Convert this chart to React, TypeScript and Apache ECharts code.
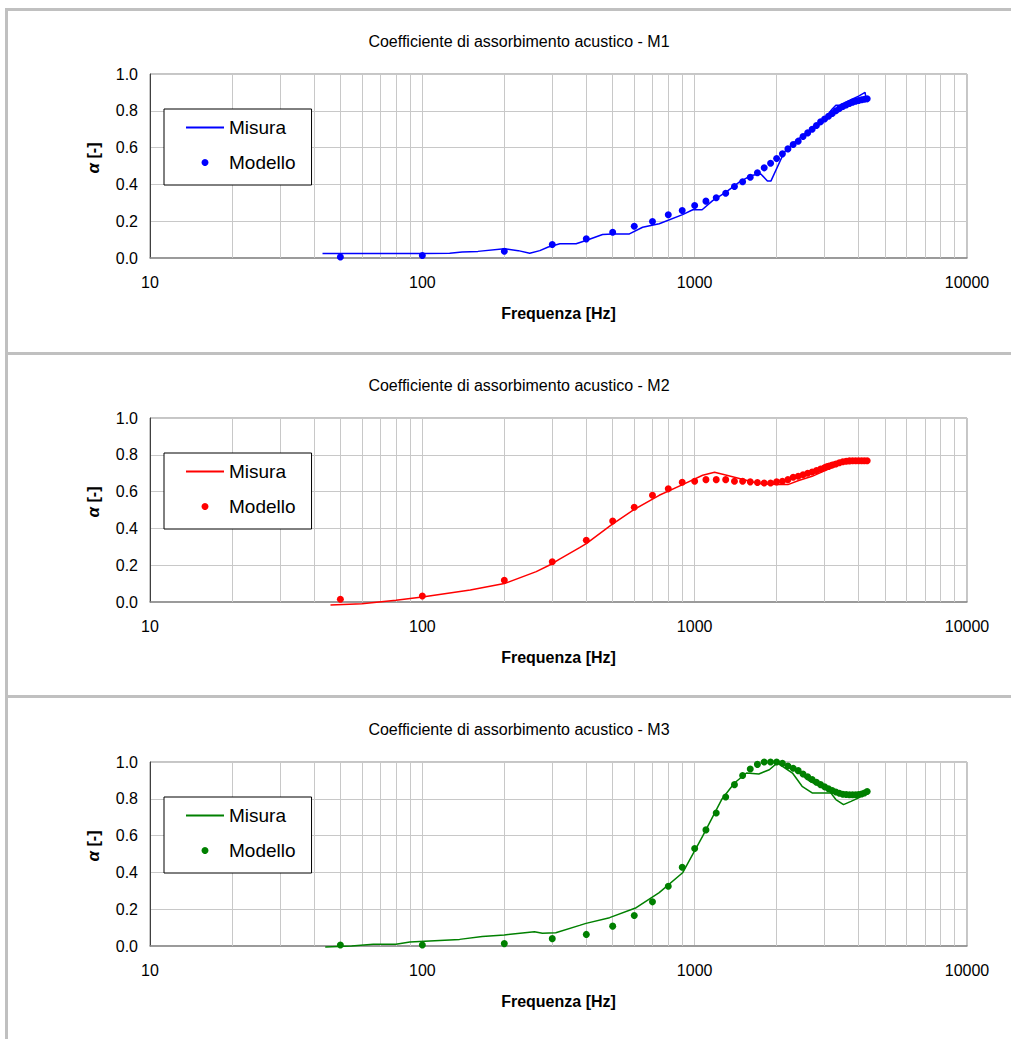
import React, { useEffect, useRef } from "react";
import * as echarts from "echarts";

// ---------- DATA ----------
const panelTitles = [
  "Coefficiente di assorbimento acustico - M1",
  "Coefficiente di assorbimento acustico - M2",
  "Coefficiente di assorbimento acustico - M3",
];
const seriesColors = ["#0000ff", "#ff0000", "#008000"];
const yTickLabels = ["0.0", "0.2", "0.4", "0.6", "0.8", "1.0"];
const xTickLabels = ["10", "100", "1000", "10000"];
const minorGridFreqs = [20, 30, 40, 50, 60, 70, 80, 90, 200, 300, 400, 500, 600, 700, 800, 900, 2000, 3000, 4000, 5000, 6000, 7000, 8000, 9000];

// Misura (measured) – M1
const m1MisuraFreq = [43, 60, 80, 100, 126, 140, 160, 200, 225, 248, 270, 290, 320, 367, 399, 459, 500, 576, 644, 741, 903, 984, 1065, 1164, 1303, 1458, 1608, 1750, 1850, 1905, 2131, 2286, 2630, 3028, 3200, 3300, 3400, 3700, 4000, 4224, 4250, 4000, 3700, 3400, 3200, 3000];
const m1MisuraAlpha = [0.025, 0.025, 0.025, 0.025, 0.026, 0.033, 0.036, 0.05, 0.04, 0.026, 0.04, 0.06, 0.077, 0.077, 0.095, 0.128, 0.131, 0.131, 0.167, 0.186, 0.236, 0.262, 0.262, 0.312, 0.358, 0.412, 0.448, 0.457, 0.418, 0.418, 0.575, 0.62, 0.693, 0.765, 0.81, 0.83, 0.83, 0.856, 0.88, 0.9, 0.875, 0.86, 0.845, 0.815, 0.79, 0.76];

// Misura – M2
const m2MisuraFreq = [46, 60, 80, 100, 150, 200, 262, 300, 318, 378, 400, 493, 600, 741, 903, 1070, 1183, 1300, 1400, 1720, 2000, 2200, 2410, 2700, 3010, 3360, 3660, 4200, 4200, 3660, 3360, 3010, 2700, 2410, 2200, 1900];
const m2MisuraAlpha = [-0.016, -0.01, 0.01, 0.027, 0.065, 0.1, 0.165, 0.208, 0.232, 0.295, 0.317, 0.418, 0.503, 0.58, 0.638, 0.689, 0.705, 0.69, 0.678, 0.644, 0.638, 0.638, 0.66, 0.683, 0.714, 0.743, 0.761, 0.768, 0.772, 0.77, 0.765, 0.747, 0.706, 0.68, 0.662, 0.648];

// Misura – M3
const m3MisuraFreq = [44, 55, 66, 80, 90, 137, 166, 200, 258, 276, 309, 378, 399, 487, 610, 741, 903, 1070, 1256, 1400, 1550, 1720, 1880, 2010, 2286, 2480, 2700, 3160, 3300, 3520, 3750, 4000, 4300, 4000, 3500, 3010, 2650, 2300, 2050];
const m3MisuraAlpha = [-0.005, 0.0, 0.009, 0.009, 0.022, 0.036, 0.051, 0.06, 0.078, 0.069, 0.072, 0.112, 0.123, 0.154, 0.208, 0.29, 0.398, 0.597, 0.796, 0.886, 0.94, 0.935, 0.958, 0.995, 0.94, 0.868, 0.832, 0.832, 0.796, 0.768, 0.786, 0.805, 0.84, 0.823, 0.823, 0.854, 0.895, 0.968, 0.99];

// Modello (model) – shared frequencies
const modelloFreq = [50, 100, 200, 300, 400, 500, 600, 700, 800, 900, 1000, 1100, 1200, 1300, 1400, 1500, 1600, 1700, 1800, 1900, 2000, 2100, 2200, 2300, 2400, 2500, 2600, 2700, 2800, 2900, 3000, 3100, 3200, 3300, 3400, 3500, 3600, 3700, 3800, 3900, 4000, 4100, 4200, 4300];
const m1ModelloAlpha = [0.005, 0.014, 0.037, 0.073, 0.104, 0.14, 0.173, 0.198, 0.235, 0.258, 0.285, 0.309, 0.327, 0.352, 0.389, 0.414, 0.439, 0.463, 0.49, 0.515, 0.541, 0.566, 0.593, 0.617, 0.635, 0.66, 0.68, 0.7, 0.72, 0.74, 0.755, 0.77, 0.785, 0.8, 0.812, 0.823, 0.832, 0.84, 0.847, 0.852, 0.856, 0.86, 0.863, 0.865];
const m2ModelloAlpha = [0.015, 0.033, 0.118, 0.219, 0.336, 0.44, 0.515, 0.58, 0.615, 0.651, 0.656, 0.665, 0.665, 0.665, 0.656, 0.656, 0.653, 0.649, 0.647, 0.647, 0.653, 0.656, 0.665, 0.678, 0.683, 0.692, 0.7, 0.707, 0.715, 0.722, 0.73, 0.737, 0.745, 0.75, 0.757, 0.762, 0.765, 0.767, 0.768, 0.768, 0.768, 0.768, 0.768, 0.768];
const m3ModelloAlpha = [0.005, 0.005, 0.013, 0.04, 0.063, 0.108, 0.166, 0.24, 0.325, 0.428, 0.53, 0.631, 0.723, 0.81, 0.877, 0.927, 0.962, 0.987, 1.0, 1.0, 1.0, 0.993, 0.978, 0.966, 0.953, 0.935, 0.92, 0.905, 0.89, 0.877, 0.865, 0.855, 0.845, 0.837, 0.83, 0.825, 0.823, 0.822, 0.822, 0.822, 0.823, 0.826, 0.832, 0.84];

const misuraFreqs = [m1MisuraFreq, m2MisuraFreq, m3MisuraFreq];
const misuraAlphas = [m1MisuraAlpha, m2MisuraAlpha, m3MisuraAlpha];
const modelloAlphas = [m1ModelloAlpha, m2ModelloAlpha, m3ModelloAlpha];

// ---------- LAYOUT ----------
const FONT = "'Liberation Sans', Arial, sans-serif";
const PANEL_STEP = 344;
const GRID_LEFT = 150;
const GRID_TOP = 74;
const GRID_W = 817;
const GRID_H = 184;
const FRAME = "#c0c0c0";
const GRIDLINE = "#c8c8c8";

export default function App() {
  const ref = useRef<HTMLDivElement>(null);

  useEffect(() => {
    if (!ref.current) return;
    const chart = echarts.init(ref.current, undefined, { renderer: "svg" });

    const grids: any[] = [];
    const xAxes: any[] = [];
    const yAxes: any[] = [];
    const series: any[] = [];
    const legends: any[] = [];
    const graphics: any[] = [];

    for (let i = 0; i < 3; i++) {
      const off = i * PANEL_STEP;
      const color = seriesColors[i];
      grids.push({
        left: GRID_LEFT,
        top: GRID_TOP + off,
        width: GRID_W,
        height: GRID_H,
        show: true,
        borderColor: "#8c8c8c",
        borderWidth: 1,
        backgroundColor: "#fff",
      });
      xAxes.push({
        type: "log",
        logBase: 10,
        gridIndex: i,
        min: 10,
        max: 10000,
        name: "Frequenza [Hz]",
        nameLocation: "middle",
        nameGap: 47,
        nameTextStyle: { fontFamily: FONT, fontSize: 16, fontWeight: "bold", color: "#000" },
        axisLine: { show: true, lineStyle: { color: "#8c8c8c", width: 1.5 } },
        axisTick: { show: false },
        axisLabel: {
          fontFamily: FONT,
          fontSize: 16,
          color: "#000",
          margin: 16,
          formatter: (v: number) => xTickLabels[Math.round(Math.log10(v)) - 1] ?? String(v),
        },
        splitLine: { show: true, lineStyle: { color: GRIDLINE, width: 1 } },
      });
      yAxes.push({
        type: "value",
        gridIndex: i,
        min: 0,
        max: 1,
        interval: 0.2,
        name: "{a|α} [-]",
        nameLocation: "middle",
        nameGap: 48,
        nameTextStyle: {
          fontFamily: FONT,
          fontSize: 16,
          fontWeight: "bold",
          color: "#000",
          padding: [0, 0, 0, 16],
          rich: { a: { fontFamily: FONT, fontSize: 17, fontWeight: "bold", fontStyle: "italic", color: "#000" } },
        },
        axisLine: { show: true, lineStyle: { color: "#404040", width: 1 } },
        axisTick: { show: false },
        axisLabel: {
          fontFamily: FONT,
          fontSize: 16,
          color: "#000",
          margin: 12,
          formatter: (v: number) => yTickLabels[Math.round(v / 0.2)] ?? v.toFixed(1),
        },
        splitLine: { show: true, lineStyle: { color: GRIDLINE, width: 1 } },
      });

      const mf = misuraFreqs[i];
      const ma = misuraAlphas[i];
      series.push({
        name: `Misura M${i + 1}`,
        type: "line",
        xAxisIndex: i,
        yAxisIndex: i,
        data: mf.map((f, j) => [f, ma[j]]),
        symbol: "none",
        showSymbol: false,
        clip: false,
        z: 3,
        lineStyle: { color, width: 1.5 },
        itemStyle: { color },
        markLine: {
          silent: true,
          symbol: "none",
          z: 1,
          label: { show: false },
          lineStyle: { color: GRIDLINE, type: "solid", width: 1 },
          emphasis: { disabled: true },
          data: minorGridFreqs.map((f) => ({ xAxis: f })),
        },
      });
      const md = modelloAlphas[i];
      series.push({
        name: `Modello M${i + 1}`,
        type: "scatter",
        xAxisIndex: i,
        yAxisIndex: i,
        data: modelloFreq.map((f, j) => [f, md[j]]),
        symbol: "circle",
        symbolSize: 7,
        clip: false,
        z: 4,
        itemStyle: { color, opacity: 1 },
      });

      legends.push({
        orient: "vertical",
        left: 164,
        top: 109 + off,
        itemWidth: 38,
        itemHeight: 7,
        itemGap: 16,
        padding: [9, 16, 13, 21],
        borderColor: "#000",
        borderWidth: 1,
        backgroundColor: "#fff",
        selectedMode: false,
        textStyle: { fontFamily: FONT, fontSize: 19, color: "#000" },
        formatter: (name: string) => name.split(" ")[0],
        data: [
          { name: `Misura M${i + 1}`, itemStyle: { opacity: 0 } },
          { name: `Modello M${i + 1}`, itemStyle: { opacity: 1 } },
        ],
      });

      graphics.push({
        type: "text",
        x: 519,
        y: 41 + off,
        silent: true,
        style: {
          text: panelTitles[i],
          fontFamily: FONT,
          fontSize: 16,
          fill: "#000",
          textAlign: "center",
          textVerticalAlign: "middle",
        },
      });
    }

    // panel frames
    graphics.push({ type: "rect", shape: { x: 5, y: 8, width: 1006, height: 3 }, style: { fill: FRAME }, silent: true });
    graphics.push({ type: "rect", shape: { x: 5, y: 8, width: 3, height: 1031 }, style: { fill: FRAME }, silent: true });
    graphics.push({ type: "rect", shape: { x: 5, y: 352, width: 1006, height: 3 }, style: { fill: FRAME }, silent: true });
    graphics.push({ type: "rect", shape: { x: 5, y: 695, width: 1006, height: 3 }, style: { fill: FRAME }, silent: true });

    chart.setOption({
      animation: false,
      backgroundColor: "#fff",
      grid: grids,
      xAxis: xAxes,
      yAxis: yAxes,
      series,
      legend: legends,
      graphic: graphics,
    });

    return () => chart.dispose();
  }, []);

  return (
    <div
      ref={ref}
      style={{ position: "absolute", left: 0, top: 0, width: 1011, height: 1039, background: "#fff" }}
    />
  );
}
